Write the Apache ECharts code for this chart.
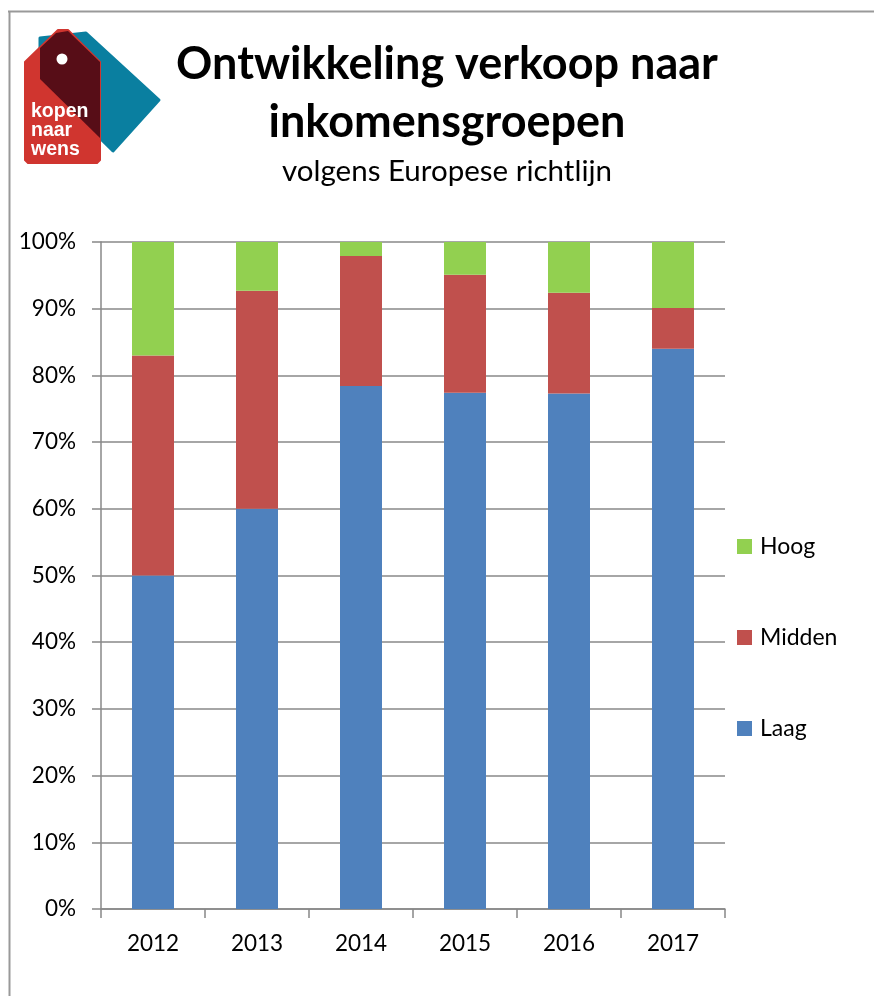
<!DOCTYPE html>
<html>
<head>
<meta charset="utf-8">
<script src="https://cdn.jsdelivr.net/npm/echarts@6/dist/echarts.min.js"></script>
<style>
html,body{margin:0;padding:0;background:#fff;}
#chart{width:874px;height:996px;}
</style>
</head>
<body>
<div id="chart"></div>
<script>
const categories = ['2012', '2013', '2014', '2015', '2016', '2017'];
const laag   = [50.0, 60.0, 78.4, 77.4, 77.3, 84.0];
const midden = [33.0, 32.7, 19.5, 17.7, 15.1, 6.1];
const hoog   = [17.0, 7.3, 2.1, 4.9, 7.6, 9.9];
const yTicks = [0, 10, 20, 30, 40, 50, 60, 70, 80, 90, 100];

const FONT = 'Lato';
const chart = echarts.init(document.getElementById('chart'), null, {renderer: 'canvas'});

function legendFor(name, top) {
  return {
    data: [name], left: 737, top: top, orient: 'vertical', padding: 0,
    itemWidth: 15, itemHeight: 15, itemGap: 0, icon: 'rect',
    textStyle: {fontFamily: FONT, fontSize: 23, color: '#000', padding: [0, 0, 0, 3]}
  };
}

chart.setOption({
  animation: false,
  backgroundColor: '#fff',
  grid: {left: 101, right: 149, top: 242, bottom: 87, containLabel: false},
  legend: [legendFor('Hoog', 535), legendFor('Midden', 626), legendFor('Laag', 717)],
  xAxis: {
    type: 'category', data: categories, boundaryGap: true,
    axisLine: {show: true, lineStyle: {color: '#888', width: 1.5}},
    axisTick: {show: true, alignWithLabel: false, length: 9, lineStyle: {color: '#888', width: 1.5}},
    axisLabel: {fontFamily: FONT, fontSize: 22.5, color: '#000', margin: 23}
  },
  yAxis: {
    type: 'value', min: yTicks[0], max: yTicks[yTicks.length - 1], interval: 10,
    axisLine: {show: true, lineStyle: {color: '#888', width: 1.5}},
    axisTick: {show: true, length: 9, lineStyle: {color: '#888', width: 1.5}},
    axisLabel: {fontFamily: FONT, fontSize: 22.5, color: '#000', margin: 25, formatter: '{value}%'},
    splitLine: {show: true, lineStyle: {color: '#888', width: 1.5}}
  },
  series: [
    {name: 'Laag', type: 'bar', stack: 'tot', data: laag, barWidth: 42, itemStyle: {color: '#4f81bd'}},
    {name: 'Midden', type: 'bar', stack: 'tot', data: midden, barWidth: 42, itemStyle: {color: '#c0504d'}},
    {name: 'Hoog', type: 'bar', stack: 'tot', data: hoog, barWidth: 42, itemStyle: {color: '#92d050'}}
  ],
  graphic: [
    // frame
    {type: 'line', shape: {x1: 8, y1: 11.5, x2: 874, y2: 11.5}, style: {stroke: '#999', lineWidth: 2}, silent: true},
    {type: 'line', shape: {x1: 9.5, y1: 11, x2: 9.5, y2: 996}, style: {stroke: '#999', lineWidth: 2}, silent: true},
    // logo: blue tag
    {type: 'polygon', shape: {points: [[40, 38], [86, 33], [159, 100], [113, 151], [40, 79]]},
      style: {fill: '#0a7fa0', stroke: '#0a7fa0', lineWidth: 3, lineJoin: 'round'}, silent: true},
    // logo: red tag
    {type: 'polygon', shape: {points: [[25, 62], [58, 30], [68, 30], [100, 62], [100, 160], [97, 163], [28, 163], [25, 160]]},
      style: {fill: '#d0352f', stroke: '#d0352f', lineWidth: 2, lineJoin: 'round'}, silent: true},
    // logo: overlap
    {type: 'polygon', shape: {points: [[40, 48], [56, 33], [68, 31], [100, 62], [100, 138], [40, 79]]},
      style: {fill: '#570d17'}, silent: true},
    {type: 'circle', shape: {cx: 62, cy: 59, r: 5.5}, style: {fill: '#fff'}, silent: true},
    {type: 'text', style: {text: 'kopen\nnaar\nwens', x: 31, y: 102, fill: '#fff', font: 'bold 19.5px "Liberation Sans"', lineHeight: 19, textAlign: 'left', textVerticalAlign: 'top'}, silent: true},
    // titles
    {type: 'text', style: {text: 'Ontwikkeling verkoop naar', x: 447, y: 64, textAlign: 'center', textVerticalAlign: 'middle', fill: '#000', font: 'bold 45px Lato'}, silent: true},
    {type: 'text', style: {text: 'inkomensgroepen', x: 447, y: 122, textAlign: 'center', textVerticalAlign: 'middle', fill: '#000', font: 'bold 45px Lato'}, silent: true},
    {type: 'text', style: {text: 'volgens Europese richtlijn', x: 447, y: 171, textAlign: 'center', textVerticalAlign: 'middle', fill: '#000', font: '29.5px Lato'}, silent: true}
  ]
});
</script>
</body>
</html>
